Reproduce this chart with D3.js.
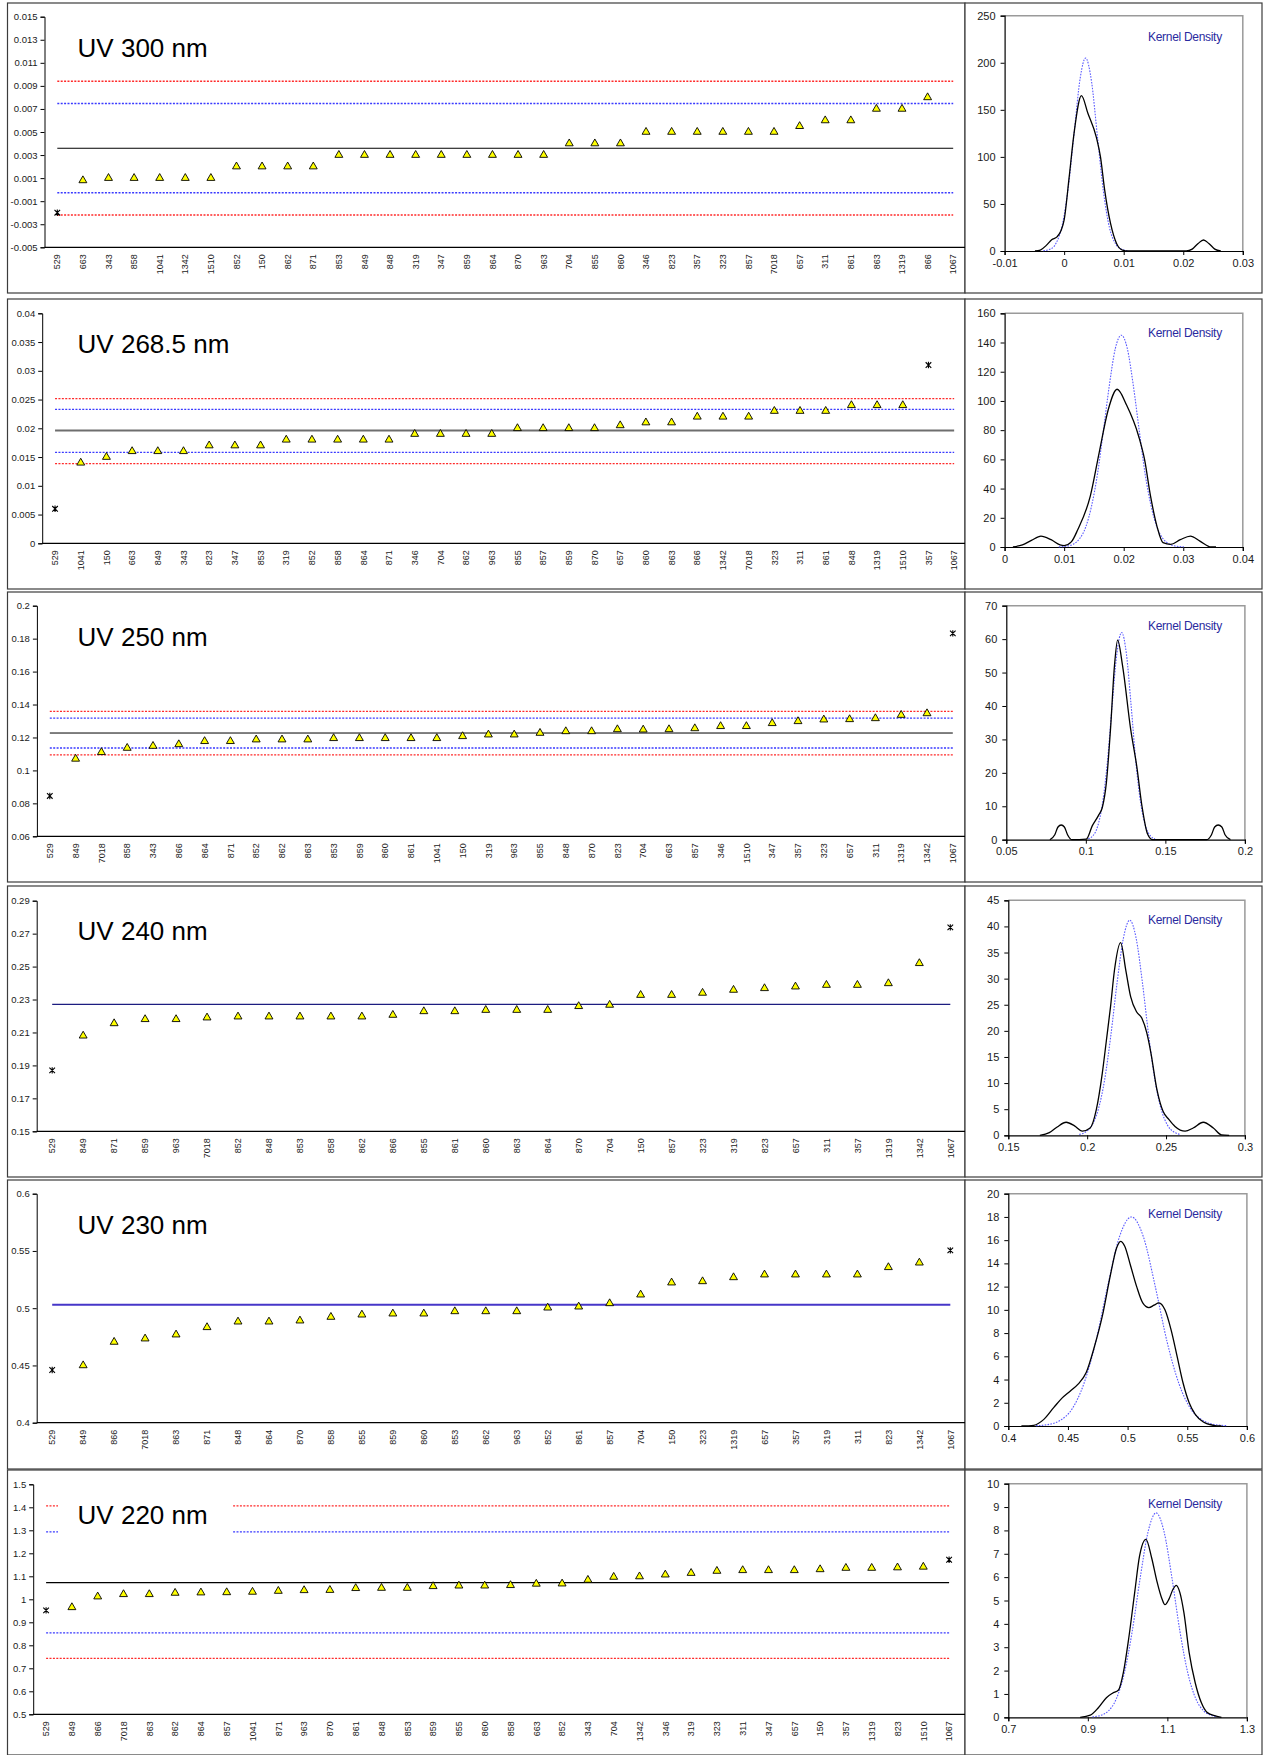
<!DOCTYPE html>
<html>
<head>
<meta charset="utf-8">
<script src="https://cdn.jsdelivr.net/npm/d3@7"></script>
<style>
  html, body { margin: 0; padding: 0; background: #fff; }
  svg { display: block; font-family: "Liberation Sans", Arial, sans-serif; }
</style>
</head>
<body>
<svg id="chart" width="1263" height="1755"></svg>
<script>
// ---------- UV 300 nm ----------
const cats300 = ["529","663","343","858","1041","1342","1510","852","150","862","871","853","849","848","319","347","859","864","870","963","704","855","860","346","823","357","323","857","7018","657","311","861","863","1319","866","1067"];
const vals300 = [-0.002,0.0008,0.001,0.001,0.001,0.001,0.001,0.002,0.002,0.002,0.002,0.003,0.003,0.003,0.003,0.003,0.003,0.003,0.003,0.003,0.004,0.004,0.004,0.005,0.005,0.005,0.005,0.005,0.005,0.0055,0.006,0.006,0.007,0.007,0.008,null];
const outliers300 = ["529"];
const mean300 = 0.00359;
const warn300 = [-0.00027, 0.00747];
const action300 = [-0.0022, 0.0094];
const yt300 = [-0.005,-0.003,-0.001,0.001,0.003,0.005,0.007,0.009,0.011,0.013,0.015];
const kde300 = [[-0.0049,0],[-0.004,1],[-0.003,6],[-0.0021,12],[-0.0012,15],[-0.0005,22],[0,33],[0.00085,79],[0.00166,125],[0.0029,165],[0.004,146],[0.0054,121],[0.0061,100],[0.0068,65],[0.0078,29],[0.0088,8],[0.0098,1],[0.0108,0],[0.0205,0],[0.0215,2],[0.0225,8],[0.0234,11.7],[0.0243,8],[0.0253,2],[0.0263,0]];
const normal300 = [[-0.0035,0.3],[-0.0023,2],[-0.0013,9],[-0.0003,28],[0.0007,68],[0.0017,127],[0.0027,184],[0.0036,205],[0.0046,180],[0.0056,121],[0.0066,63],[0.0076,25],[0.0086,8],[0.0096,2],[0.0108,0.2]];
const kx300 = [-0.01,0,0.01,0.02,0.03];
const ky300 = [0,50,100,150,200,250];

// ---------- UV 268.5 nm ----------
const cats268 = ["529","1041","150","663","849","343","823","347","853","319","852","858","864","871","346","704","862","963","855","857","859","870","657","860","863","866","1342","7018","323","311","861","848","1319","1510","357","1067"];
const vals268 = [0.006,0.014,0.015,0.016,0.016,0.016,0.017,0.017,0.017,0.018,0.018,0.018,0.018,0.018,0.019,0.019,0.019,0.019,0.020,0.020,0.020,0.020,0.0205,0.021,0.021,0.022,0.022,0.022,0.023,0.023,0.023,0.024,0.024,0.024,0.031,null];
const outliers268 = ["529","357"];
const mean268 = 0.0196;
const warn268 = [0.01583, 0.0233];
const action268 = [0.01386, 0.02516];
const yt268 = [0,0.005,0.01,0.015,0.02,0.025,0.03,0.035,0.04];
const kde268 = [[0.0014,0],[0.003,1.5],[0.0045,4.5],[0.0061,7.5],[0.0078,5],[0.0093,1.5],[0.01,1],[0.0112,3.5],[0.0123,12],[0.0144,35],[0.0159,65],[0.0174,94],[0.0189,108],[0.0205,97],[0.0225,76],[0.0235,60],[0.0245,35],[0.0256,14],[0.0266,3],[0.0279,1.8],[0.0295,5],[0.0312,7.5],[0.0328,4],[0.0347,0],[0.0355,0]];
const normal268 = [[0.0091,0.1],[0.0106,0.7],[0.0116,2.1],[0.0126,5.7],[0.0136,13.4],[0.0146,28],[0.0156,50],[0.0166,80],[0.0176,111],[0.0186,136],[0.0196,145],[0.0206,136],[0.0216,111],[0.0226,80],[0.0236,50],[0.0246,28],[0.0256,13.4],[0.0266,5.7],[0.0276,2.1],[0.0286,0.7],[0.0301,0.1]];
const kx268 = [0,0.01,0.02,0.03,0.04];
const ky268 = [0,20,40,60,80,100,120,140,160];

// ---------- UV 250 nm ----------
const cats250 = ["529","849","7018","858","343","866","864","871","852","862","863","853","859","860","861","1041","150","319","963","855","848","870","823","704","663","857","346","1510","347","357","323","657","311","1319","1342","1067"];
const vals250 = [0.0845,0.107,0.111,0.1136,0.1148,0.1158,0.1177,0.1177,0.1187,0.1187,0.1187,0.1195,0.1195,0.1195,0.1195,0.1195,0.1207,0.1217,0.1217,0.1227,0.1237,0.1237,0.1249,0.1247,0.1249,0.1255,0.1268,0.1268,0.1286,0.1298,0.1308,0.131,0.1316,0.1336,0.1346,0.1832];
const outliers250 = ["529","1067"];
const mean250 = 0.1227;
const warn250 = [0.1136, 0.1318];
const action250 = [0.1094, 0.1359];
const yt250 = [0.06,0.08,0.1,0.12,0.14,0.16,0.18,0.2];
const kde250 = [[0.0774,0],[0.0805,1.5],[0.0825,3.8],[0.0845,4.4],[0.0865,3.8],[0.0885,1.5],[0.0913,0],[0.1003,0.2],[0.1041,4.2],[0.1079,7.2],[0.1104,9.7],[0.1129,17],[0.1155,33],[0.118,52],[0.12,59.7],[0.1231,52],[0.1282,33],[0.132,22],[0.1353,10],[0.1388,1.7],[0.142,0],[0.1759,0],[0.179,1.5],[0.181,3.8],[0.1832,4.4],[0.1855,3.8],[0.1875,1.5],[0.1909,0]];
const normal250 = [[0.1015,0.3],[0.1045,1.2],[0.1075,4.1],[0.1105,10.9],[0.1135,23],[0.1165,40],[0.1195,55.6],[0.1225,62],[0.1255,55.6],[0.1285,40],[0.1315,23],[0.1345,10.9],[0.1375,4.1],[0.1405,1.2],[0.1435,0.3]];
const kx250 = [0.05,0.1,0.15,0.2];
const ky250 = [0,10,20,30,40,50,60,70];

// ---------- UV 240 nm ----------
const cats240 = ["529","849","871","859","963","7018","852","848","853","858","862","866","855","861","860","863","864","870","704","150","857","323","319","823","657","311","357","1319","1342","1067"];
const vals240 = [0.187,0.208,0.2155,0.218,0.218,0.219,0.2196,0.2196,0.2196,0.2196,0.2196,0.2206,0.2228,0.2228,0.2236,0.2236,0.2236,0.2259,0.2267,0.2327,0.2327,0.234,0.2358,0.2368,0.2378,0.2388,0.2388,0.2398,0.252,0.2738];
const outliers240 = ["529","1067"];
const mean240 = 0.2271;
const warn240 = [];
const action240 = [];
const yt240 = [0.15,0.17,0.19,0.21,0.23,0.25,0.27,0.29];
const kde240 = [[0.17,0],[0.176,0.5],[0.181,1.6],[0.1867,2.5],[0.192,1.8],[0.1969,0.8],[0.2019,1.4],[0.2058,4.9],[0.2096,11.9],[0.2122,18.2],[0.2148,24.6],[0.2173,31.6],[0.2212,36.9],[0.2245,31.6],[0.2276,26.5],[0.2314,23.6],[0.2347,22.4],[0.2378,19.6],[0.2404,15.8],[0.2442,8.8],[0.2481,4.6],[0.2519,3],[0.2557,1.7],[0.2621,0.8],[0.2672,1.4],[0.2736,2.5],[0.28,1.4],[0.2851,0.1],[0.29,0]];
const normal240 = [[0.195,0.18],[0.199,0.63],[0.203,1.9],[0.207,4.9],[0.211,10.5],[0.215,19.1],[0.219,29.3],[0.223,37.8],[0.227,41.2],[0.231,37.8],[0.235,29.3],[0.239,19.1],[0.243,10.5],[0.247,4.9],[0.251,1.9],[0.255,0.63],[0.259,0.18]];
const kx240 = [0.15,0.2,0.25,0.3];
const ky240 = [0,5,10,15,20,25,30,35,40,45];

// ---------- UV 230 nm ----------
const cats230 = ["529","849","866","7018","863","871","848","864","870","858","855","859","860","853","862","963","852","861","857","704","150","323","1319","657","357","319","311","823","1342","1067"];
const vals230 = [0.446,0.450,0.4705,0.4734,0.4769,0.4833,0.4882,0.4882,0.4891,0.4923,0.4943,0.4952,0.4952,0.4972,0.4972,0.4972,0.5004,0.5013,0.5042,0.5118,0.5223,0.5234,0.5269,0.5293,0.5293,0.5293,0.5293,0.5357,0.5397,0.5505];
const outliers230 = ["529","1067"];
const mean230 = 0.503;
const warn230 = [];
const action230 = [];
const yt230 = [0.4,0.45,0.5,0.55,0.6];
const kde230 = [[0.411,0],[0.4213,0.06],[0.4298,0.57],[0.4382,1.6],[0.445,2.4],[0.4518,3.0],[0.4585,3.6],[0.4653,4.6],[0.4721,6.8],[0.4789,9.5],[0.4856,13],[0.4907,15.3],[0.4941,15.9],[0.4975,15.5],[0.5025,13.8],[0.5076,12],[0.5127,10.6],[0.5178,10.2],[0.5222,10.4],[0.5262,10.6],[0.5313,10],[0.5364,8.3],[0.5415,6],[0.5465,3.7],[0.5516,2],[0.5567,1],[0.5635,0.34],[0.5719,0.06],[0.5787,0]];
const normal230 = [[0.4232,0.03],[0.4332,0.12],[0.4432,0.47],[0.4532,1.43],[0.4632,3.6],[0.4732,7.2],[0.4832,12],[0.4932,16.3],[0.5032,18],[0.5132,16.3],[0.5232,12],[0.5332,7.2],[0.5432,3.6],[0.5532,1.43],[0.5632,0.47],[0.5732,0.12],[0.5832,0.03]];
const kx230 = [0.4,0.45,0.5,0.55,0.6];
const ky230 = [0,2,4,6,8,10,12,14,16,18,20];

// ---------- UV 220 nm ----------
const cats220 = ["529","849","866","7018","863","862","864","857","1041","871","963","870","861","848","853","859","855","860","858","663","852","343","704","1342","346","319","323","311","347","657","150","357","1319","823","1510","1067"];
const vals220 = [0.952,0.965,1.0116,1.0217,1.0217,1.0275,1.029,1.03,1.032,1.036,1.039,1.04,1.048,1.049,1.049,1.0565,1.059,1.059,1.061,1.067,1.068,1.084,1.097,1.099,1.107,1.114,1.123,1.126,1.126,1.126,1.13,1.136,1.136,1.138,1.141,1.172];
const outliers220 = ["529","1067"];
const mean220 = 1.0725;
const warn220 = [0.8536, 1.293];
const action220 = [0.7435, 1.406];
const yt220 = [0.5,0.6,0.7,0.8,0.9,1,1.1,1.2,1.3,1.4,1.5];
const kde220 = [[0.8807,0],[0.9061,0.09],[0.9264,0.41],[0.9467,0.84],[0.962,1.03],[0.9772,1.17],[0.9893,1.91],[1.0025,3.34],[1.0178,5.34],[1.03,6.9],[1.0462,7.62],[1.0604,6.83],[1.0736,5.83],[1.0868,5.05],[1.0939,4.82],[1.104,5.06],[1.1142,5.48],[1.1223,5.65],[1.1315,5.34],[1.1416,4.48],[1.1548,2.77],[1.17,1.48],[1.1853,0.63],[1.2005,0.2],[1.2208,0.06],[1.236,0]];
const normal220 = [[0.9116,0.02],[0.9316,0.08],[0.9516,0.27],[0.9716,0.79],[0.9916,1.88],[1.0116,3.68],[1.0316,5.96],[1.0516,7.95],[1.0716,8.75],[1.0916,7.95],[1.1116,5.96],[1.1316,3.68],[1.1516,1.88],[1.1716,0.79],[1.1916,0.27],[1.2116,0.08],[1.2316,0.02]];
const kx220 = [0.7,0.9,1.1,1.3];
const ky220 = [0,1,2,3,4,5,6,7,8,9,10];

const titles = ["UV 300 nm","UV 268.5 nm","UV 250 nm","UV 240 nm","UV 230 nm","UV 220 nm"];

// Panel records assembled from the arrays above
const panels = [
  {cats:cats300, vals:vals300, out:outliers300, mean:mean300, warn:warn300, action:action300, yt:yt300, kde:kde300, normal:normal300, kx:kx300, ky:ky300},
  {cats:cats268, vals:vals268, out:outliers268, mean:mean268, warn:warn268, action:action268, yt:yt268, kde:kde268, normal:normal268, kx:kx268, ky:ky268},
  {cats:cats250, vals:vals250, out:outliers250, mean:mean250, warn:warn250, action:action250, yt:yt250, kde:kde250, normal:normal250, kx:kx250, ky:ky250},
  {cats:cats240, vals:vals240, out:outliers240, mean:mean240, warn:warn240, action:action240, yt:yt240, kde:kde240, normal:normal240, kx:kx240, ky:ky240},
  {cats:cats230, vals:vals230, out:outliers230, mean:mean230, warn:warn230, action:action230, yt:yt230, kde:kde230, normal:normal230, kx:kx230, ky:ky230},
  {cats:cats220, vals:vals220, out:outliers220, mean:mean220, warn:warn220, action:action220, yt:yt220, kde:kde220, normal:normal220, kx:kx220, ky:ky220}
];

// Geometry of each row (pixels)
const layout = [
  {box:[3,293],     plot:[16.7,247.3],   xr:[44.5,966],   dens:[15.7,251],     dx:[1004.6,1242.8], meanColor:"#000",    meanW:1},
  {box:[299,589],   plot:[313.3,543.3],  xr:[42.2,967],   dens:[313.3,547],    dx:[1004.6,1242.8], meanColor:"#6e6e6e", meanW:2},
  {box:[592,882],   plot:[605.7,836.3],  xr:[36.9,965.7], dens:[605.7,839.7],  dx:[1006.3,1244.9], meanColor:"#000",    meanW:1},
  {box:[886,1177],  plot:[900.7,1131.3], xr:[36.7,965.8], dens:[900.3,1135.3], dx:[1008.3,1244.9], meanColor:"#1c1c80", meanW:1.2},
  {box:[1180,1469], plot:[1193.7,1422.7],xr:[36.7,965.8], dens:[1193.7,1426],  dx:[1008.3,1246.9], meanColor:"#4636c8", meanW:2.2},
  {box:[1470,1755], plot:[1484.3,1714.3],xr:[33.2,962],   dens:[1483.7,1717.3],dx:[1008.3,1246.9], meanColor:"#000",    meanW:1.2}
];

const svg = d3.select("#chart");
const fmt = v => String(+v.toFixed(6));
const BOX_L = 7.5, BOX_M = 965, BOX_R = 1262;
const RED = "#ff2a2a", BLUE = "#3a3aff";

panels.forEach((p, i) => {
  const L = layout[i];
  const g = svg.append("g");

  // frames around the two charts of the row
  g.append("rect").attr("x", BOX_L).attr("y", L.box[0]).attr("width", BOX_M - BOX_L).attr("height", L.box[1] - L.box[0])
    .attr("fill", "#fff").attr("stroke", "#3c3c3c").attr("stroke-width", 1.2);
  g.append("rect").attr("x", BOX_M).attr("y", L.box[0]).attr("width", BOX_R - BOX_M).attr("height", L.box[1] - L.box[0])
    .attr("fill", "#fff").attr("stroke", "#3c3c3c").attr("stroke-width", 1.2);

  // ---- sample chart ----
  const x = d3.scalePoint().domain(p.cats).range(L.xr).padding(0.5);
  const y = d3.scaleLinear().domain(d3.extent(p.yt)).range([L.plot[1], L.plot[0]]);

  const yAxis = d3.axisLeft(y).tickValues(p.yt).tickFormat(fmt).tickSize(4).tickPadding(3);
  const ya = g.append("g").attr("transform", `translate(${L.xr[0]},0)`).call(yAxis);
  ya.select(".domain").attr("stroke", "#000");
  ya.selectAll(".tick line").attr("stroke", "#000");
  ya.selectAll("text").attr("font-size", 9.5).attr("fill", "#1a1a1a").attr("font-family", "Liberation Sans, Arial, sans-serif");

  g.append("line").attr("x1", L.xr[0]).attr("x2", BOX_M).attr("y1", L.plot[1]).attr("y2", L.plot[1])
    .attr("stroke", "#000").attr("stroke-width", 1.2);

  g.append("g").selectAll("text").data(p.cats).join("text")
    .attr("transform", d => `translate(${x(d) + 3.2},${L.plot[1] + 7}) rotate(-90)`)
    .attr("text-anchor", "end").attr("font-size", 9).attr("fill", "#1a1a1a")
    .text(d => d);

  const x0 = x(p.cats[0]), x1 = x(p.cats[p.cats.length - 1]);
  const hline = (v, color, w, dash) => g.append("line")
    .attr("x1", x0).attr("x2", x1).attr("y1", y(v)).attr("y2", y(v))
    .attr("stroke", color).attr("stroke-width", w).attr("stroke-dasharray", dash || null);

  p.action.forEach(v => hline(v, RED, 1.3, "2,1.4"));
  p.warn.forEach(v => hline(v, BLUE, 1.3, "2,1.4"));
  hline(p.mean, L.meanColor, L.meanW);

  // title box
  const tb = L.box[0] + 54;
  g.append("rect").attr("x", 58).attr("y", tb - 34).attr("width", 175).attr("height", 47).attr("fill", "#fff");
  g.append("text").attr("x", 77.6).attr("y", tb).attr("font-size", 26).attr("fill", "#000").text(titles[i]);

  // points
  const pts = p.cats.map((c, k) => ({c, v: p.vals[k]})).filter(d => d.v !== null);
  const isOut = d => p.out.includes(d.c);
  g.append("g").selectAll("path").data(pts.filter(d => !isOut(d))).join("path")
    .attr("transform", d => `translate(${x(d.c)},${y(d.v)})`)
    .attr("d", d3.symbol(d3.symbolTriangle, 27))
    .attr("fill", "#ffff00").attr("stroke", "#000").attr("stroke-width", 0.9);
  g.append("g").selectAll("path").data(pts.filter(isOut)).join("path")
    .attr("transform", d => `translate(${x(d.c)},${y(d.v)})`)
    .attr("d", "M-2.8,-2.8L2.8,2.8M-2.8,2.8L2.8,-2.8M0,-3.2L0,3.2")
    .attr("fill", "none").attr("stroke", "#000").attr("stroke-width", 1.1);

  // ---- kernel density chart ----
  const kxs = d3.scaleLinear().domain(d3.extent(p.kx)).range(L.dx);
  const kys = d3.scaleLinear().domain(d3.extent(p.ky)).range([L.dens[1], L.dens[0]]);

  // plot-area frame (top and right)
  g.append("path").attr("d", `M${L.dx[0]},${L.dens[0]}H${L.dx[1]}V${L.dens[1]}`)
    .attr("fill", "none").attr("stroke", "#9a9a9a").attr("stroke-width", 1.5);

  const kyAxis = d3.axisLeft(kys).tickValues(p.ky).tickFormat(fmt).tickSize(4).tickPadding(5);
  const kya = g.append("g").attr("transform", `translate(${L.dx[0]},0)`).call(kyAxis);
  const kxAxis = d3.axisBottom(kxs).tickValues(p.kx).tickFormat(fmt).tickSize(4).tickPadding(4);
  const kxa = g.append("g").attr("transform", `translate(0,${L.dens[1]})`).call(kxAxis);
  [kya, kxa].forEach(a => {
    a.select(".domain").attr("stroke", "#000").attr("stroke-width", 1.2);
    a.selectAll(".tick line").attr("stroke", "#000");
    a.selectAll("text").attr("font-size", 11).attr("fill", "#1a1a1a").attr("font-family", "Liberation Sans, Arial, sans-serif");
  });

  const line = d3.line().x(d => kxs(d[0])).y(d => kys(d[1])).curve(d3.curveMonotoneX);
  g.append("path").datum(p.normal).attr("d", line)
    .attr("fill", "none").attr("stroke", "#5a5aff").attr("stroke-width", 1.1).attr("stroke-dasharray", "1.6,1.3");
  g.append("path").datum(p.kde).attr("d", line)
    .attr("fill", "none").attr("stroke", "#000").attr("stroke-width", 1.3);

  g.append("text").attr("x", 1148).attr("y", L.box[0] + 37.5)
    .attr("font-size", 12).attr("fill", "#2a2aa0").attr("letter-spacing", -0.3).text("Kernel Density");
});
</script>
</body>
</html>
